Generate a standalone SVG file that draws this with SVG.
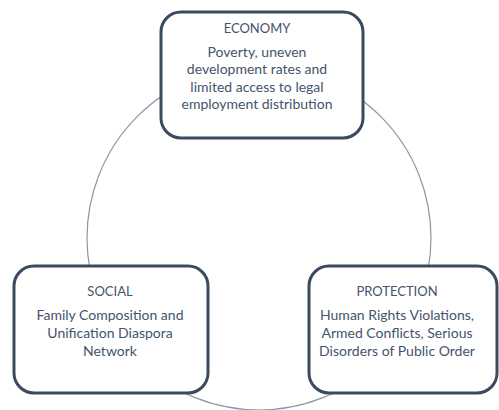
<svg xmlns="http://www.w3.org/2000/svg" width="499" height="410" viewBox="0 0 499 410">
<style>
.box{fill:#fff;stroke:#3b4a5e;stroke-width:3}
.ring{fill:none;stroke:#8c97a6;stroke-width:1.2}
text{font-family:Lato,"Open Sans",sans-serif;fill:#44546a;text-anchor:middle}
.t{font-size:13px}
.b{font-size:14px}
</style>
<rect width="499" height="410" fill="#fff"/>
<g id="connectors">
<circle class="ring" cx="259" cy="238" r="172"/>
</g>
<g id="economy">
<rect class="box" x="161" y="12" width="202" height="126" rx="20"/>
<text class="t" x="257" y="33">ECONOMY</text>
<text class="b" x="257" y="57">Poverty, uneven</text>
<text class="b" x="257" y="74.3">development rates and</text>
<text class="b" x="257" y="91.6">limited access to legal</text>
<text class="b" x="257" y="108.9">employment distribution</text>
</g>
<g id="social">
<rect class="box" x="14" y="266" width="194" height="127" rx="20"/>
<text class="t" x="110" y="296">SOCIAL</text>
<text class="b" x="110" y="320">Family Composition and</text>
<text class="b" x="110" y="338">Unification Diaspora</text>
<text class="b" x="110" y="356">Network</text>
</g>
<g id="protection">
<rect class="box" x="309" y="266" width="188" height="127" rx="20"/>
<text class="t" x="397" y="296">PROTECTION</text>
<text class="b" x="397" y="320">Human Rights Violations,</text>
<text class="b" x="397" y="338">Armed Conflicts, Serious</text>
<text class="b" x="397" y="356">Disorders of Public Order</text>
</g>
</svg>
